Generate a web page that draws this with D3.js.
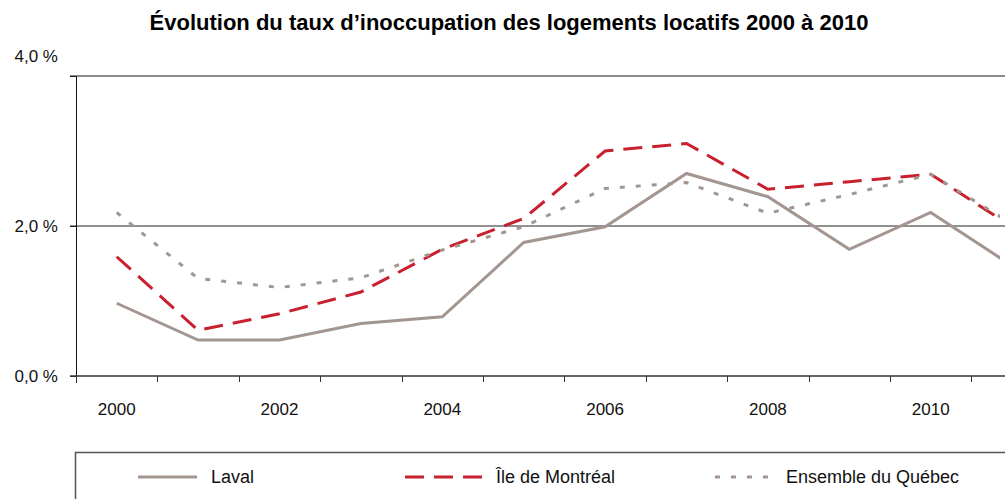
<!DOCTYPE html>
<html>
<head>
<meta charset="utf-8">
<script src="https://cdn.jsdelivr.net/npm/d3@7"></script>
<style>
  body { margin: 0; background: #fff; }
  svg { display: block; font-family: "Liberation Sans", Arial, sans-serif; }
</style>
</head>
<body>
<script>
// valeurs (taux d'inoccupation, %)
var years = [2000, 2001, 2002, 2003, 2004, 2005, 2006, 2007, 2008, 2009, 2010, 2011];
var laval = [0.97, 0.48, 0.48, 0.70, 0.79, 1.78, 1.99, 2.70, 2.39, 1.69, 2.18, 1.47];
var montreal = [1.59, 0.61, 0.83, 1.12, 1.69, 2.10, 3.00, 3.10, 2.49, 2.59, 2.69, 1.99];
var quebec = [2.18, 1.30, 1.18, 1.31, 1.68, 1.99, 2.50, 2.58, 2.17, 2.42, 2.69, 2.03];
var yTicks = [0, 2, 4];
var xLabels = [2000, 2002, 2004, 2006, 2008, 2010];
var seriesNames = ["Laval", "Île de Montréal", "Ensemble du Québec"];

var width = 1005, height = 499;
var plotLeft = 76, plotTop = 76, plotBottom = 376;

var series = [
  {name: seriesNames[0], values: laval, color: "#a39690", dash: null},
  {name: seriesNames[1], values: montreal, color: "#c8202e", dash: "19,10"},
  {name: seriesNames[2], values: quebec, color: "#a39690", dash: "5,11"}
];

var svg = d3.select("body").append("svg")
    .attr("width", width)
    .attr("height", height);

var x = d3.scaleBand()
    .domain(years)
    .range([plotLeft, plotLeft + 12 * 81.4]);

var y = d3.scaleLinear()
    .domain([0, 4])
    .range([plotBottom, plotTop]);

// titre
svg.append("text")
    .attr("x", 509)
    .attr("y", 30)
    .attr("text-anchor", "middle")
    .attr("font-size", 22)
    .attr("font-weight", "bold")
    .text("Évolution du taux d’inoccupation des logements locatifs 2000 à 2010");

// lignes horizontales
svg.append("line")
    .attr("x1", 70).attr("x2", width)
    .attr("y1", y(4)).attr("y2", y(4))
    .attr("stroke", "#666").attr("stroke-width", 1.5);

svg.append("line")
    .attr("x1", 70).attr("x2", width)
    .attr("y1", y(2)).attr("y2", y(2))
    .attr("stroke", "#222").attr("stroke-width", 1);

// axe y
var yAxis = svg.append("g")
    .attr("transform", "translate(" + plotLeft + ",0)")
    .call(d3.axisLeft(y)
        .tickValues(yTicks)
        .tickSize(6)
        .tickPadding(12)
        .tickFormat(function(d) { return d3.format(".1f")(d).replace(".", ",") + " %"; }));
yAxis.select(".domain").remove();
yAxis.selectAll("text")
    .attr("font-size", 17)
    .attr("fill", "#111")
    .attr("font-family", "Liberation Sans, Arial, sans-serif")
    .attr("dy", function(d) { return d === 4 ? "-0.85em" : "0.32em"; });
yAxis.selectAll(".tick line").attr("stroke", "#222");

svg.append("line")
    .attr("x1", plotLeft + 0.5).attr("x2", plotLeft + 0.5)
    .attr("y1", plotTop).attr("y2", plotBottom + 7)
    .attr("stroke", "#111");

// axe x
svg.append("line")
    .attr("x1", 70).attr("x2", width)
    .attr("y1", plotBottom).attr("y2", plotBottom)
    .attr("stroke", "#333").attr("stroke-width", 1.5);

svg.selectAll(".xtick")
    .data(years)
    .enter()
    .append("line")
    .attr("class", "xtick")
    .attr("x1", function(d) { return Math.round(x(d)) + 0.5; })
    .attr("x2", function(d) { return Math.round(x(d)) + 0.5; })
    .attr("y1", plotBottom)
    .attr("y2", plotBottom + 6)
    .attr("stroke", "#333");

var xAxis = svg.append("g")
    .attr("transform", "translate(0," + plotBottom + ")")
    .call(d3.axisBottom(x)
        .tickValues(xLabels)
        .tickSize(0)
        .tickPadding(27));
xAxis.select(".domain").remove();
xAxis.selectAll("text")
    .attr("font-size", 17)
    .attr("fill", "#111")
    .attr("font-family", "Liberation Sans, Arial, sans-serif");

// courbes
svg.append("clipPath")
    .attr("id", "clip")
    .append("rect")
    .attr("x", plotLeft).attr("y", 0)
    .attr("width", 1000 - plotLeft).attr("height", height);

var line = d3.line()
    .x(function(d, i) { return x(years[i]) + x.bandwidth() / 2; })
    .y(function(d) { return y(d); });

svg.append("g")
    .attr("clip-path", "url(#clip)")
    .selectAll("path")
    .data(series)
    .enter()
    .append("path")
    .attr("d", function(d) { return line(d.values); })
    .attr("fill", "none")
    .attr("stroke", function(d) { return d.color; })
    .attr("stroke-width", 3)
    .attr("stroke-dasharray", function(d) { return d.dash; });

// légende
svg.append("rect")
    .attr("x", 75.5).attr("y", 452.5)
    .attr("width", 1000).attr("height", 100)
    .attr("fill", "none")
    .attr("stroke", "#555")
    .attr("stroke-width", 1.5);

var legendPos = [{x1: 138, x2: 197, tx: 211}, {x1: 405, x2: 482, tx: 496}, {x1: 715, x2: 770, tx: 786}];

var legend = svg.selectAll(".legend")
    .data(series)
    .enter()
    .append("g")
    .attr("class", "legend");

legend.append("line")
    .attr("x1", function(d, i) { return legendPos[i].x1; })
    .attr("x2", function(d, i) { return legendPos[i].x2; })
    .attr("y1", 477).attr("y2", 477)
    .attr("stroke", function(d) { return d.color; })
    .attr("stroke-width", 3)
    .attr("stroke-dasharray", function(d) { return d.dash; });

legend.append("text")
    .attr("x", function(d, i) { return legendPos[i].tx; })
    .attr("y", 477)
    .attr("dy", "0.35em")
    .attr("font-size", 18)
    .attr("fill", "#111")
    .text(function(d) { return d.name; });
</script>
</body>
</html>
